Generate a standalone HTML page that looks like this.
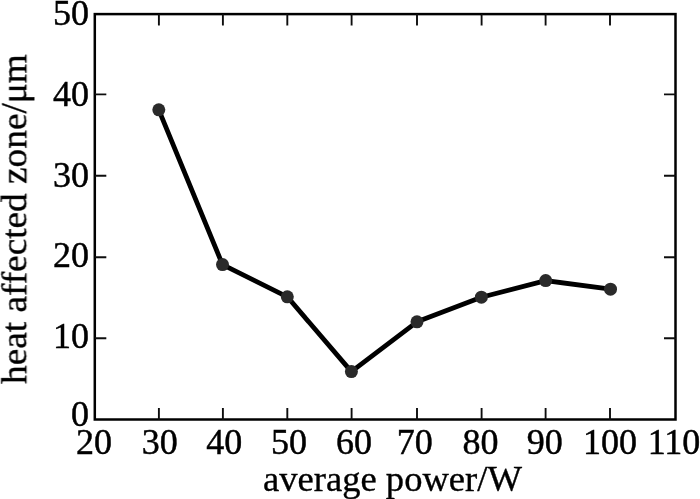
<!DOCTYPE html>
<html><head><meta charset="utf-8"><style>
html,body{margin:0;padding:0;background:#fff;width:700px;height:499px;overflow:hidden}
svg{display:block}
.t{font-family:"Liberation Serif",serif;font-size:36px;fill:#000;stroke:#000;stroke-width:0.45px}
.a{font-family:"Liberation Serif",serif;font-size:36.6px;fill:#000;stroke:#000;stroke-width:0.35px}
.ya{font-family:"Liberation Serif",serif;font-size:37.3px;fill:#000;stroke:#000;stroke-width:0.35px}
</style></head><body>
<svg width="700" height="499" viewBox="0 0 700 499" xmlns="http://www.w3.org/2000/svg">
<defs><filter id="b" x="-5%" y="-5%" width="110%" height="110%"><feGaussianBlur stdDeviation="0.6"/></filter></defs>
<g filter="url(#b)">
<rect x="94.8" y="14.1" width="580.7" height="405.4" fill="none" stroke="#000" stroke-width="2.5"/>
<path d="M158.9,419.5V408.0M158.9,14.1V25.6M222.9,419.5V408.0M222.9,14.1V25.6M287.3,419.5V408.0M287.3,14.1V25.6M351.6,419.5V408.0M351.6,14.1V25.6M417.0,419.5V408.0M417.0,14.1V25.6M481.6,419.5V408.0M481.6,14.1V25.6M545.6,419.5V408.0M545.6,14.1V25.6M610.0,419.5V408.0M610.0,14.1V25.6M94.8,338.2H106.3M675.5,338.2H664.0M94.8,257.3H106.3M675.5,257.3H664.0M94.8,175.8H106.3M675.5,175.8H664.0M94.8,94.4H106.3M675.5,94.4H664.0" stroke="#111" stroke-width="1.9" fill="none"/>
<path d="M158.8,109.8 L222.5,264.6 L287.3,296.8 L351.4,371.6 L417,321.8 L481.4,297.2 L545.7,280.6 L610.5,289.2" stroke="#000" stroke-width="4.8" fill="none" stroke-linejoin="round"/>
<circle cx="158.8" cy="109.8" r="6.5" fill="#2a2a2a"/>
<circle cx="222.5" cy="264.6" r="6.5" fill="#2a2a2a"/>
<circle cx="287.3" cy="296.8" r="6.5" fill="#2a2a2a"/>
<circle cx="351.4" cy="371.6" r="6.5" fill="#2a2a2a"/>
<circle cx="417" cy="321.8" r="6.5" fill="#2a2a2a"/>
<circle cx="481.4" cy="297.2" r="6.5" fill="#2a2a2a"/>
<circle cx="545.7" cy="280.6" r="6.5" fill="#2a2a2a"/>
<circle cx="610.5" cy="289.2" r="6.5" fill="#2a2a2a"/>
<text x="94.1" y="453.6" text-anchor="middle" class="t">20</text>
<text x="159.8" y="453.6" text-anchor="middle" class="t">30</text>
<text x="224.3" y="453.6" text-anchor="middle" class="t">40</text>
<text x="288.9" y="453.6" text-anchor="middle" class="t">50</text>
<text x="353.9" y="453.6" text-anchor="middle" class="t">60</text>
<text x="414.7" y="453.6" text-anchor="middle" class="t">70</text>
<text x="480.4" y="453.6" text-anchor="middle" class="t">80</text>
<text x="544.7" y="453.6" text-anchor="middle" class="t">90</text>
<text x="610.0" y="453.6" text-anchor="middle" class="t">100</text>
<text x="674.0" y="453.6" text-anchor="middle" class="t">110</text>
<text x="88.9" y="25.2" text-anchor="end" class="t">50</text>
<text x="88.9" y="105.7" text-anchor="end" class="t">40</text>
<text x="88.9" y="186.6" text-anchor="end" class="t">30</text>
<text x="88.9" y="266.8" text-anchor="end" class="t">20</text>
<text x="88.9" y="348.3" text-anchor="end" class="t">10</text>
<text x="88.9" y="426.0" text-anchor="end" class="t">0</text>
<text x="263" y="490.5" class="a">average power/W</text>
<text transform="translate(26.6,384) rotate(-90) scale(1,0.95)" x="0" y="0" class="ya">heat affected zone/μm</text>
</g>
</svg>
</body></html>
